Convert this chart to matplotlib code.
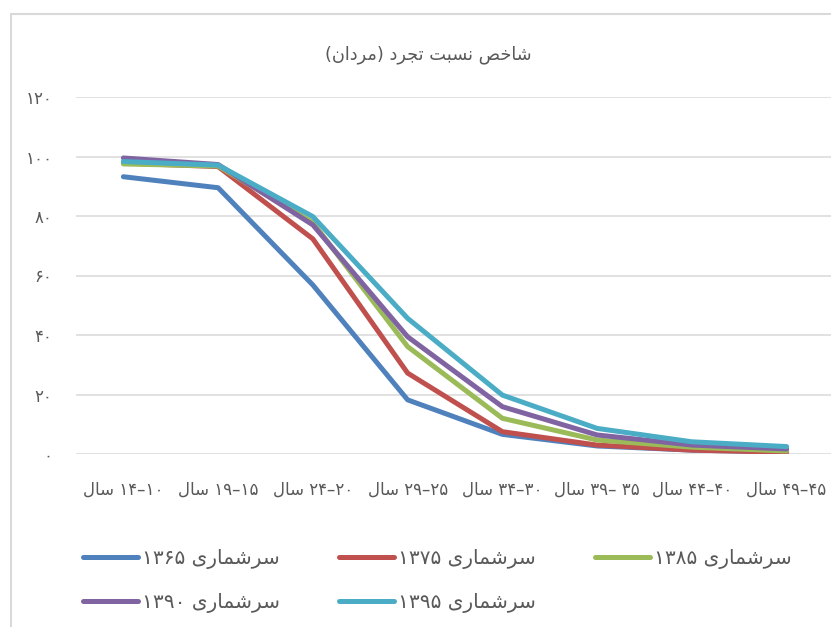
import matplotlib
matplotlib.use('Agg')
import matplotlib.pyplot as plt
from matplotlib.patches import Rectangle

# data
age_groups = ['۱۰–۱۴ سال', '۱۵–۱۹ سال', '۲۰–۲۴ سال', '۲۵–۲۹ سال',
              '۳۰–۳۴ سال', '۳۵ –۳۹ سال', '۴۰–۴۴ سال', '۴۵–۴۹ سال']
census_1365 = [93.2, 89.5, 56.8, 18.2, 6.6, 2.7, 1.3, 0.7]
census_1375 = [97.8, 96.6, 72.3, 27.2, 7.5, 3.0, 1.3, 0.6]
census_1385 = [97.5, 96.8, 77.8, 36.1, 12.0, 4.7, 2.3, 1.0]
census_1390 = [99.5, 97.3, 77.0, 39.4, 15.9, 6.4, 3.0, 1.7]
census_1395 = [98.3, 97.1, 79.8, 45.6, 19.8, 8.6, 4.1, 2.5]
series_names = ['سرشماری ۱۳۶۵', 'سرشماری ۱۳۷۵', 'سرشماری ۱۳۸۵', 'سرشماری ۱۳۹۰', 'سرشماری ۱۳۹۵']
y_ticks = [0, 20, 40, 60, 80, 100, 120]
title = 'شاخص نسبت تجرد (مردان)'

colors = ['#4F81BD', '#C0504D', '#9BBB59', '#8064A2', '#4BACC6']

# --- minimal arabic/persian shaping + rtl ordering (matplotlib has no shaper)
FORMS = {
    'ا': (0xFE8D, 0xFE8E), 'د': (0xFEA9, 0xFEAA), 'ر': (0xFEAD, 0xFEAE),
    'ب': (0xFE8F, 0xFE90, 0xFE91, 0xFE92), 'ت': (0xFE95, 0xFE96, 0xFE97, 0xFE98),
    'ج': (0xFE9D, 0xFE9E, 0xFE9F, 0xFEA0), 'خ': (0xFEA5, 0xFEA6, 0xFEA7, 0xFEA8),
    'س': (0xFEB1, 0xFEB2, 0xFEB3, 0xFEB4), 'ش': (0xFEB5, 0xFEB6, 0xFEB7, 0xFEB8),
    'ص': (0xFEB9, 0xFEBA, 0xFEBB, 0xFEBC), 'ل': (0xFEDD, 0xFEDE, 0xFEDF, 0xFEE0),
    'م': (0xFEE1, 0xFEE2, 0xFEE3, 0xFEE4), 'ن': (0xFEE5, 0xFEE6, 0xFEE7, 0xFEE8),
    'ی': (0xFBFC, 0xFBFD, 0xFBFE, 0xFBFF),
}
MIRROR = {'(': ')', ')': '('}
DIGITS = '۰۱۲۳۴۵۶۷۸۹0123456789'


def shape(s):
    out = []
    for i, ch in enumerate(s):
        if ch not in FORMS:
            out.append(ch)
            continue
        f = FORMS[ch]
        prev = s[i - 1] if i > 0 else ''
        nxt = s[i + 1] if i + 1 < len(s) else ''
        jp = prev in FORMS and len(FORMS[prev]) == 4
        jn = nxt in FORMS and len(f) == 4
        if jp and jn:
            out.append(chr(f[3]))
        elif jp:
            out.append(chr(f[1]))
        elif jn:
            out.append(chr(f[2]))
        else:
            out.append(chr(f[0]))
    return ''.join(out)


def rtl(s):
    s = shape(s)
    runs = []
    for ch in s:
        isdig = ch in DIGITS
        if runs and runs[-1][0] == isdig:
            runs[-1][1] += ch
        else:
            runs.append([isdig, ch])
    parts = []
    for isdig, txt in reversed(runs):
        if isdig:
            parts.append(txt)
        else:
            parts.append(''.join(MIRROR.get(c, c) for c in reversed(txt)))
    return ''.join(parts)


def fa_num(n):
    return ''.join('۰۱۲۳۴۵۶۷۸۹'[int(d)] for d in str(n))


plt.rcParams['font.family'] = ['DejaVu Sans']
txt_color = '#595959'
grid_color = '#D9D9D9'

W, H = 831, 627
fig = plt.figure(figsize=(W / 100, H / 100), dpi=100)
ax = fig.add_axes([76 / W, (H - 454) / H, 758 / W, 357 / H])

x = list(range(len(age_groups)))
all_series = [census_1365, census_1375, census_1385, census_1390, census_1395]
lines = []
for vals, name, c in zip(all_series, series_names, colors):
    ln, = ax.plot(x, vals, color=c, lw=3.6, solid_capstyle='round',
                  solid_joinstyle='round', label=rtl(name))
    lines.append(ln)

ax.set_xlim(-0.5, len(age_groups) - 0.5)
ax.set_ylim(0, 120)
ax.set_yticks(y_ticks)
ax.set_yticklabels([fa_num(v) for v in y_ticks])
ax.set_xticks(x)
ax.set_xticklabels([rtl(a) for a in age_groups])
ax.grid(axis='y', color=grid_color, lw=1.1)
ax.set_axisbelow(True)
for sp in ax.spines.values():
    sp.set_visible(False)
ax.tick_params(length=0, colors=txt_color, labelsize=12)
ax.tick_params(axis='y', pad=17)
ax.tick_params(axis='x', pad=19)

fig.text(428 / W, 1 - 55 / H, rtl(title), ha='center', va='center',
         fontsize=12.8, color=txt_color)

# legend: matplotlib fills column-first, so reorder to get row-first layout
order = [0, 3, 1, 4, 2]
fs = 14.5
em = fs * 100 / 72
leg = fig.legend([lines[i] for i in order], [lines[i].get_label() for i in order],
                 ncol=3, loc='center left', bbox_to_anchor=(83 / W, 1 - 581 / H),
                 frameon=False, fontsize=fs, handlelength=55 / em,
                 handletextpad=4 / em, columnspacing=59 / em, labelspacing=1.2,
                 borderpad=0, borderaxespad=0, labelcolor=txt_color)

fig.patches.append(Rectangle((11 / W, -0.1), 1.2, 1 - 14 / H + 0.1,
                             transform=fig.transFigure, fill=False,
                             ec=grid_color, lw=1.5))

fig.savefig('out.png', dpi=100, facecolor='white')
